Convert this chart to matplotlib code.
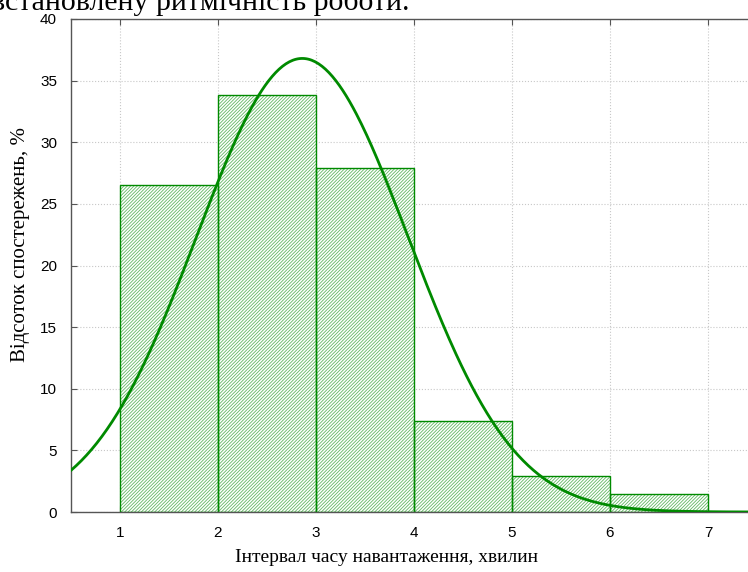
import matplotlib.pyplot as plt
import numpy as np

# Дані гістограми (інтервали, хв) та частки спостережень, %
bin_left = [1, 2, 3, 4, 5, 6]
bin_width = 1.0
percent = [26.5, 33.8, 27.9, 7.4, 2.9, 1.5]

# Параметри нормальної кривої
curve_mu = 2.86
curve_sigma = 1.08
curve_peak = 36.8

x_ticks = [1, 2, 3, 4, 5, 6, 7]
y_ticks = [0, 5, 10, 15, 20, 25, 30, 35, 40]

green = '#008a00'
hatch_green = '#62b862'
plt.rcParams['hatch.linewidth'] = 0.6

fig = plt.figure(figsize=(7.48, 5.72), dpi=100)
ax = fig.add_axes([71 / 748, 1 - 512 / 572, (757 - 71) / 748, (512 - 19) / 572])

# штрихування окремо від контуру, щоб колір був світлішим
ax.bar(bin_left, percent, width=bin_width, align='edge', color='white',
       edgecolor=hatch_green, hatch='//////////', linewidth=0, zorder=2)
ax.bar(bin_left, percent, width=bin_width, align='edge', fill=False,
       edgecolor=green, linewidth=1.0, zorder=2)

xs = np.linspace(0.5, 7.5, 400)
ys = curve_peak * np.exp(-(xs - curve_mu) ** 2 / (2 * curve_sigma ** 2))
ax.plot(xs, ys, color=green, linewidth=2.0, zorder=3)

ax.set_xlim(0.5, 7.5)
ax.set_ylim(0, 40)
ax.set_xticks(x_ticks)
ax.set_yticks(y_ticks)
ax.tick_params(direction='in', length=4, colors='#555555', labelcolor='black',
               labelsize=11, top=True, right=False, pad=10)
for lab in ax.get_xticklabels() + ax.get_yticklabels():
    lab.set_family('Liberation Sans')
ax.grid(True, linestyle=':', color='#c8c8c8', linewidth=0.8, zorder=0)
for s in ax.spines.values():
    s.set_color('#555555')
    s.set_linewidth(1.0)

ax.set_xlabel('Інтервал часу навантаження, хвилин', family='Liberation Serif',
              fontsize=14)
ax.set_ylabel('Відсоток спостережень, %', family='Liberation Serif',
              fontsize=15)
ax.xaxis.set_label_coords(0.4606, -0.075)
ax.yaxis.set_label_coords(-0.06, 0.5416)

# обрізаний рядок тексту документа над графіком
fig.text(-0.012, 1 - 10 / 572, 'встановлену ритмічність роботи.',
         family='Liberation Serif', fontsize=21.5, va='baseline', ha='left')

fig.savefig('out.png', dpi=100)
